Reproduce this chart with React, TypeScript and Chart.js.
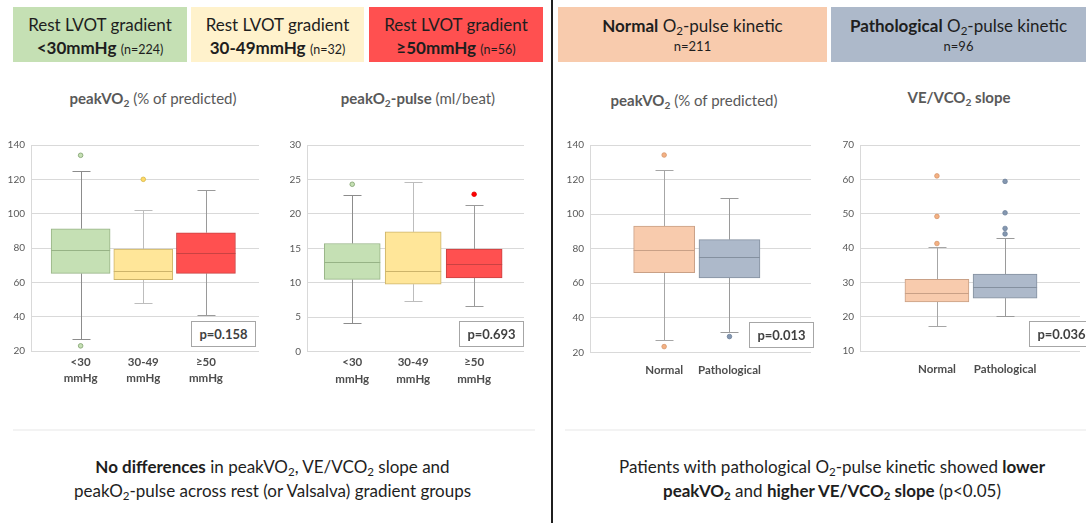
import React, { useEffect, useRef } from 'react';
import { Chart, registerables } from 'chart.js';
Chart.register(...registerables);

const FONT = 'Lato, "Open Sans", sans-serif';

// ---- Chart 1: peakVO2 (% predicted) by rest LVOT gradient ----
const gradLabels = [['<30', 'mmHg'], ['30-49', 'mmHg'], ['≥50', 'mmHg']];
const vo2GradMin = [27, 47.8, 40.7];
const vo2GradQ1 = [65.2, 61.5, 65.2];
const vo2GradMedian = [79, 66.7, 77.3];
const vo2GradQ3 = [91.2, 79.3, 88.9];
const vo2GradMax = [125, 102.2, 113.8];
const vo2GradMean = [79, 72, 76];
const vo2GradOutliers = [[134, 23], [120], []];

// ---- Chart 2: peakO2-pulse (ml/beat) by rest LVOT gradient ----
const o2GradMin = [4.2, 7.4, 6.6];
const o2GradQ1 = [10.5, 9.8, 10.7];
const o2GradMedian = [13.0, 11.7, 12.8];
const o2GradQ3 = [15.7, 17.4, 14.9];
const o2GradMax = [22.75, 24.7, 21.3];
const o2GradMean = [13.05, 13.15, 13.2];
const o2GradOutliers = [[24.3], [], [22.85]];

// ---- Chart 3: peakVO2 (% predicted) by O2-pulse kinetic ----
const kinLabels = ['Normal', 'Pathological'];
const vo2KinMin = [27.2, 32];
const vo2KinQ1 = [66.1, 63];
const vo2KinMedian = [79.3, 75];
const vo2KinQ3 = [93.1, 85.2];
const vo2KinMax = [125.5, 109.5];
const vo2KinMean = [80.2, 74];
const vo2KinOutliers = [[134.2, 23.3], [29.1]];

// ---- Chart 4: VE/VCO2 slope by O2-pulse kinetic ----
const slopeKinMin = [17.3, 20.3];
const slopeKinQ1 = [24.3, 25.4];
const slopeKinMedian = [26.9, 28.7];
const slopeKinQ3 = [30.9, 32.4];
const slopeKinMax = [40.4, 43.0];
const slopeKinMean = [28, 30.1];
const slopeKinOutliers = [[61, 49.2, 41.3], [59.4, 50.25, 45.7, 44.1]];

const pValues = ['p=0.158', 'p=0.693', 'p=0.013', 'p=0.036'];

const gradFills = ['#c5e0b4', '#ffe699', '#ff5050'];
const gradBorders = ['#97b386', '#cdb46a', '#c94242'];
const gradWhiskers = ['#8c8c8c', '#bdbdbd', '#9a9a9a'];
const gradOutFill = ['#c5e0b4', '#ffd966', '#ff0000'];
const gradOutBorder = ['#7f9f6c', '#d6b84a', '#e00000'];
const kinFills = ['#f8cbad', '#adb9ca'];
const kinBorders = ['#c9a086', '#84909f'];
const kinWhiskers = ['#a6a6a6', '#9a9a9a'];
const kinOutFill = ['#f4b183', '#8497b0'];
const kinOutBorder = ['#d6956b', '#6f829b'];

type BoxProps = {
  labels: (string | string[])[];
  mins: number[]; q1: number[]; med: number[]; q3: number[]; maxs: number[]; means: number[];
  outliers: number[][];
  fills: string[]; borders: string[]; whiskers: string[]; outFill: string[]; outBorder: string[];
  yMin: number; yMax: number; yStep: number;
  xMin: number; xMax: number;
  boxW: number; capW: number;
  left: number; top: number; width: number; height: number;
  axisW: number; padTop: number; padRight: number; xAxisH: number; labelPad: number;
};

function BoxChart(p: BoxProps) {
  const ref = useRef<HTMLCanvasElement | null>(null);
  useEffect(() => {
    if (!ref.current) return;
    const xs = p.labels.map((_, i) => i + 1);
    const boxPlugin = {
      id: 'boxExtras',
      beforeDatasetsDraw(chart: any) {
        const { ctx } = chart;
        const x = chart.scales.x, y = chart.scales.y;
        ctx.save();
        xs.forEach((xv, i) => {
          const px = Math.round(x.getPixelForValue(xv)) + 0.5;
          ctx.strokeStyle = p.whiskers[i];
          ctx.lineWidth = 1;
          ctx.beginPath();
          const yMax = Math.round(y.getPixelForValue(p.maxs[i])) + 0.5;
          const yMin = Math.round(y.getPixelForValue(p.mins[i])) + 0.5;
          ctx.moveTo(px, yMax); ctx.lineTo(px, y.getPixelForValue(p.q3[i]));
          ctx.moveTo(px, y.getPixelForValue(p.q1[i])); ctx.lineTo(px, yMin);
          ctx.moveTo(px - p.capW / 2, yMax); ctx.lineTo(px + p.capW / 2, yMax);
          ctx.moveTo(px - p.capW / 2, yMin); ctx.lineTo(px + p.capW / 2, yMin);
          ctx.stroke();
        });
        ctx.restore();
      },
      afterDatasetDraw(chart: any, args: any) {
        if (args.index !== 0) return;
        const { ctx } = chart;
        const x = chart.scales.x, y = chart.scales.y;
        ctx.save();
        xs.forEach((xv, i) => {
          const px = x.getPixelForValue(xv);
          const py = Math.round(y.getPixelForValue(p.med[i])) + 0.5;
          ctx.strokeStyle = p.borders[i];
          ctx.lineWidth = 1.2;
          ctx.beginPath();
          ctx.moveTo(px - p.boxW / 2, py); ctx.lineTo(px + p.boxW / 2, py);
          ctx.stroke();
        });
        ctx.restore();
      },
    };
    const outPts: any[] = [];
    const outBg: string[] = [];
    const outBd: string[] = [];
    p.outliers.forEach((arr, i) => arr.forEach((v) => {
      outPts.push({ x: xs[i], y: v });
      outBg.push(p.outFill[i]);
      outBd.push(p.outBorder[i]);
    }));
    const chart = new Chart(ref.current, {
      type: 'bar',
      data: {
        datasets: [
          {
            type: 'bar',
            data: xs.map((xv, i) => ({ x: xv, y: [p.q1[i], p.q3[i]] })) as any,
            backgroundColor: p.fills,
            borderColor: p.borders,
            borderWidth: 1,
            borderSkipped: false,
            barThickness: p.boxW,
            grouped: false,
          } as any,
          {
            type: 'scatter',
            data: p.means.map((m, i) => ({ x: xs[i], y: m })),
            pointStyle: 'crossRot',
            pointRadius: 5,
            borderColor: '#595959',
            backgroundColor: 'transparent',
            borderWidth: 1,
          } as any,
          {
            type: 'scatter',
            data: outPts,
            pointStyle: 'circle',
            pointRadius: 2.3,
            pointBackgroundColor: outBg,
            pointBorderColor: outBd,
            pointBorderWidth: 0.8,
          } as any,
        ],
      },
      options: {
        animation: false,
        responsive: false,
        maintainAspectRatio: false,
        layout: { padding: { top: p.padTop, right: p.padRight, left: 0, bottom: 0 } },
        plugins: { legend: { display: false }, tooltip: { enabled: false }, title: { display: false } },
        scales: {
          x: {
            type: 'linear',
            min: p.xMin,
            max: p.xMax,
            offset: false,
            grid: { display: false, drawTicks: false },
            border: { display: false },
            afterBuildTicks: (s: any) => { s.ticks = xs.map((v) => ({ value: v })); },
            afterFit: (s: any) => { s.height = p.xAxisH; },
            ticks: {
              autoSkip: false,
              maxRotation: 0,
              minRotation: 0,
              padding: p.labelPad,
              color: '#4d4d4d',
              font: { family: FONT, size: 11.5, weight: 'bold', lineHeight: 1.4 },
              callback: (_v: any, i: number) => p.labels[i] as any,
            },
          },
          y: {
            min: p.yMin,
            max: p.yMax,
            ticks: { stepSize: p.yStep, padding: 6, color: '#595959', font: { family: FONT, size: 10 } },
            grid: { color: '#d9d9d9', drawTicks: false },
            border: { display: true, color: '#d9d9d9' },
            afterFit: (s: any) => { s.width = p.axisW; },
          },
        },
      } as any,
      plugins: [boxPlugin],
    });
    return () => chart.destroy();
  }, []);
  return (
    <canvas
      ref={ref}
      width={p.width}
      height={p.height}
      style={{ position: 'absolute', left: p.left, top: p.top, width: p.width, height: p.height }}
    />
  );
}

const Sub = ({ children }: { children: any }) => (
  <sub style={{ fontSize: '0.68em', verticalAlign: '-0.3em', lineHeight: 0 }}>{children}</sub>
);

function Title({ cx, cy, children }: { cx: number; cy: number; children: any }) {
  return (
    <div style={{ position: 'absolute', left: cx - 150, top: cy - 10, width: 300, height: 20, lineHeight: '20px', textAlign: 'center', fontSize: 15, color: '#595959', whiteSpace: 'nowrap' }}>
      {children}
    </div>
  );
}

function PBox({ left, top, text }: { left: number; top: number; text: string }) {
  return (
    <div style={{ position: 'absolute', left, top, width: 65, height: 26, boxSizing: 'border-box', border: '1px solid #a6a6a6', background: '#fff', fontWeight: 'bold', fontSize: 13, color: '#404040', lineHeight: '24px', textAlign: 'center' }}>
      {text}
    </div>
  );
}

function HeaderBox({ left, width, bg, padTop, children }: { left: number; width: number; bg: string; padTop: number; children: any }) {
  return (
    <div style={{ position: 'absolute', left, top: 7, width, height: 55, boxSizing: 'border-box', paddingTop: padTop, background: bg, display: 'flex', flexDirection: 'column', justifyContent: 'center', alignItems: 'center', color: '#1e1e1e', fontSize: 17, whiteSpace: 'nowrap' }}>
      {children}
    </div>
  );
}

export default function App() {
  return (
    <div style={{ position: 'fixed', left: 0, top: 0, width: 1086, height: 523, background: '#fff', overflow: 'hidden', fontFamily: FONT }}>
      {/* Left headers */}
      <HeaderBox left={13} width={174} bg="#c5e0b4" padTop={4}>
        <div style={{ lineHeight: '23px' }}>Rest LVOT gradient</div>
        <div style={{ lineHeight: '23px' }}><b>&lt;30mmHg</b> <span style={{ fontSize: 12.5 }}>(n=224)</span></div>
      </HeaderBox>
      <HeaderBox left={191} width={173} bg="#fff2cc" padTop={4}>
        <div style={{ lineHeight: '23px' }}>Rest LVOT gradient</div>
        <div style={{ lineHeight: '23px' }}><b>30-49mmHg</b> <span style={{ fontSize: 12.5 }}>(n=32)</span></div>
      </HeaderBox>
      <HeaderBox left={369} width={174} bg="#ff5050" padTop={4}>
        <div style={{ lineHeight: '23px' }}>Rest LVOT gradient</div>
        <div style={{ lineHeight: '23px' }}><b>≥50mmHg</b> <span style={{ fontSize: 12.5 }}>(n=56)</span></div>
      </HeaderBox>
      {/* Right headers */}
      <HeaderBox left={558} width={269} bg="#f8cbad" padTop={1}>
        <div style={{ lineHeight: '22px' }}><b>Normal</b> O<Sub>2</Sub>-pulse kinetic</div>
        <div style={{ lineHeight: '19px', fontSize: 13 }}>n=211</div>
      </HeaderBox>
      <HeaderBox left={831} width={255} bg="#adb9ca" padTop={1}>
        <div style={{ lineHeight: '22px' }}><b>Pathological</b> O<Sub>2</Sub>-pulse kinetic</div>
        <div style={{ lineHeight: '19px', fontSize: 13 }}>n=96</div>
      </HeaderBox>

      {/* Divider */}
      <div style={{ position: 'absolute', left: 551, top: 0, width: 2, height: 523, background: '#1f1f1f' }} />

      {/* Titles */}
      <Title cx={153} cy={98}><b>peakVO<Sub>2</Sub></b> (% of predicted)</Title>
      <Title cx={418} cy={98}><b>peakO<Sub>2</Sub>-pulse</b> (ml/beat)</Title>
      <Title cx={694} cy={100}><b>peakVO<Sub>2</Sub></b> (% of predicted)</Title>
      <Title cx={959} cy={97}><b>VE/VCO<Sub>2</Sub> slope</b></Title>

      {/* Charts */}
      <BoxChart
        labels={gradLabels} mins={vo2GradMin} q1={vo2GradQ1} med={vo2GradMedian} q3={vo2GradQ3} maxs={vo2GradMax} means={vo2GradMean}
        outliers={vo2GradOutliers} fills={gradFills} borders={gradBorders} whiskers={gradWhiskers} outFill={gradOutFill} outBorder={gradOutBorder}
        yMin={20} yMax={140} yStep={20} xMin={0.208} xMax={3.847} boxW={59} capW={18}
        left={0} top={133} width={265} height={265} axisW={31} padTop={10.5} padRight={2} xAxisH={47} labelPad={3}
      />
      <BoxChart
        labels={gradLabels} mins={o2GradMin} q1={o2GradQ1} med={o2GradMedian} q3={o2GradQ3} maxs={o2GradMax} means={o2GradMean}
        outliers={o2GradOutliers} fills={gradFills} borders={gradBorders} whiskers={gradWhiskers} outFill={gradOutFill} outBorder={gradOutBorder}
        yMin={0} yMax={30} yStep={5} xMin={0.258} xMax={3.818} boxW={56} capW={18}
        left={276} top={133} width={254} height={265} axisW={31} padTop={10.3} padRight={2} xAxisH={46.3} labelPad={3}
      />
      <BoxChart
        labels={kinLabels} mins={vo2KinMin} q1={vo2KinQ1} med={vo2KinMedian} q3={vo2KinQ3} maxs={vo2KinMax} means={vo2KinMean}
        outliers={vo2KinOutliers} fills={kinFills} borders={kinBorders} whiskers={kinWhiskers} outFill={kinOutFill} outBorder={kinOutBorder}
        yMin={20} yMax={140} yStep={20} xMin={-0.135} xMax={3.248} boxW={61} capW={18}
        left={559} top={133} width={258} height={265} axisW={31} padTop={12} padRight={2} xAxisH={45.7} labelPad={10}
      />
      <BoxChart
        labels={kinLabels} mins={slopeKinMin} q1={slopeKinQ1} med={slopeKinMedian} q3={slopeKinQ3} maxs={slopeKinMax} means={slopeKinMean}
        outliers={slopeKinOutliers} fills={kinFills} borders={kinBorders} whiskers={kinWhiskers} outFill={kinOutFill} outBorder={kinOutBorder}
        yMin={10} yMax={70} yStep={10} xMin={-0.129} xMax={3.1} boxW={64} capW={18}
        left={829} top={133} width={257} height={265} axisW={31} padTop={10.3} padRight={0} xAxisH={47} labelPad={10}
      />

      {/* p-value boxes */}
      <PBox left={191} top={321} text={pValues[0]} />
      <PBox left={459} top={321} text={pValues[1]} />
      <PBox left={749} top={322} text={pValues[2]} />
      <PBox left={1029} top={321} text={pValues[3]} />

      {/* Separator lines */}
      <div style={{ position: 'absolute', left: 13, top: 429, width: 522, height: 2, background: '#f3f3f3' }} />
      <div style={{ position: 'absolute', left: 565, top: 429, width: 521, height: 2, background: '#f3f3f3' }} />

      {/* Bottom conclusions */}
      <div style={{ position: 'absolute', left: 0, top: 455, width: 545, textAlign: 'center', fontSize: 17, lineHeight: '24px', color: '#1e1e1e', whiteSpace: 'nowrap' }}>
        <div><b>No differences</b> in peakVO<Sub>2</Sub>, VE/VCO<Sub>2</Sub> slope and</div>
        <div>peakO<Sub>2</Sub>-pulse across rest (or Valsalva) gradient groups</div>
      </div>
      <div style={{ position: 'absolute', left: 570, top: 455, width: 524, textAlign: 'center', fontSize: 17, lineHeight: '24px', color: '#1e1e1e', whiteSpace: 'nowrap' }}>
        <div>Patients with pathological O<Sub>2</Sub>-pulse kinetic showed <b>lower</b></div>
        <div><b>peakVO<Sub>2</Sub></b> and <b>higher VE/VCO<Sub>2</Sub> slope</b> (p&lt;0.05)</div>
      </div>
    </div>
  );
}
